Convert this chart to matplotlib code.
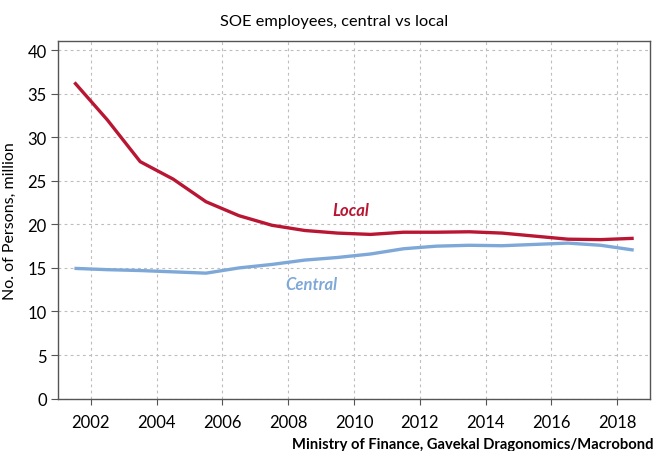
import matplotlib
matplotlib.use('Agg')
import matplotlib.pyplot as plt
import numpy as np

plt.rcParams['font.family'] = ['Lato', 'DejaVu Sans']

# annual data, plotted at mid-year
years = np.arange(2001.5, 2019.0, 1.0)
local = [36.3, 32.0, 27.2, 25.2, 22.6, 21.0, 19.9, 19.3, 19.0, 18.85,
         19.1, 19.1, 19.15, 19.0, 18.65, 18.3, 18.25, 18.4]
central = [14.95, 14.8, 14.7, 14.55, 14.4, 15.0, 15.4, 15.9, 16.2, 16.6,
           17.2, 17.5, 17.6, 17.55, 17.7, 17.85, 17.6, 17.05]

xticks = list(range(2002, 2019, 2))
yticks = list(range(0, 41, 5))

red = '#b81632'
blue = '#7ea8d8'
grid_c = '#bdbdbd'

fig = plt.figure(figsize=(6.58, 4.52), dpi=100)
ax = fig.add_axes([0.0881, 0.116, 0.9, 0.79])

ax.plot(years, local, color=red, lw=2.4, solid_capstyle='butt')
ax.plot(years, central, color=blue, lw=2.4, solid_capstyle='butt')

ax.set_xlim(2001, 2019)
ax.set_ylim(0, 41)
ax.set_xticks(xticks)
ax.set_xticklabels([str(x) for x in xticks])
ax.set_yticks(yticks)

ax.grid(True, color=grid_c, ls=(0, (2.5, 3)), lw=0.8)
ax.tick_params(axis='both', labelsize=12, length=5, width=0.8,
               color='#555555', pad=3)
ax.tick_params(axis='x', length=4, pad=7)
for s in ax.spines.values():
    s.set_color('#555555')
    s.set_linewidth(1.0)

ax.set_ylabel('No. of Persons, million', fontsize=11.5, labelpad=8)

ax.text(2009.9, 20.7, 'Local', color=red, fontsize=12, fontweight='bold',
        style='italic', ha='center', va='bottom')
ax.text(2008.7, 13.2, 'Central', color=blue, fontsize=12, fontweight='bold',
        style='italic', ha='center', va='center')

fig.text(0.508, 0.952, 'SOE employees, central vs local', fontsize=11.8,
         ha='center', va='center')
fig.text(0.993, 0.016, 'Ministry of Finance, Gavekal Dragonomics/Macrobond',
         fontsize=10.6, fontweight='bold', ha='right', va='center')

fig.savefig('out.png', dpi=100)
